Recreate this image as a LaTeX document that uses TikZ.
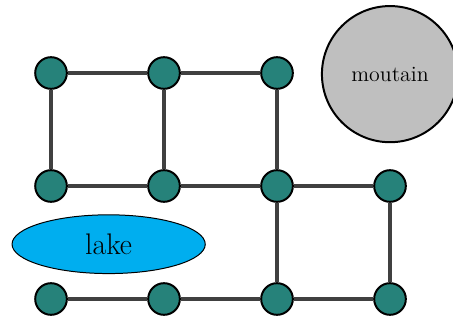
\documentclass[tikz,border=0pt]{standalone}
\usetikzlibrary{shapes.geometric}
\definecolor{nodeteal}{RGB}{38,130,122}
\definecolor{lakeblue}{RGB}{0,174,239}
\definecolor{edgegray}{RGB}{64,64,64}
\tikzset{
  vertex/.style={circle, draw=black, line width=1pt, fill=nodeteal, minimum size=0.56cm, inner sep=0pt},
  road/.style={edgegray, line width=1.6pt}
}
\begin{document}
\begin{tikzpicture}
		\useasboundingbox (-0.903, 1.292) rectangle (7.115, -4.407);
		% grid vertices
		\foreach \i in {0,1,2} \node[vertex] (n-\i-0) at (2*\i, 0) {};
		\foreach \j in {1,2} \foreach \i in {0,1,2,3} \node[vertex] (n-\i-\j) at (2*\i, -2*\j) {};
		
		% roads
		\draw[road] (n-0-0) -- (n-1-0) -- (n-2-0);
		\draw[road] (n-0-1) -- (n-1-1) -- (n-2-1) -- (n-3-1);
		\draw[road] (n-0-2) -- (n-1-2) -- (n-2-2) -- (n-3-2);
		\foreach \i in {0,1,2} \draw[road] (n-\i-0) -- (n-\i-1);
		\foreach \i in {2,3} \draw[road] (n-\i-1) -- (n-\i-2);
		
		\node[circle, draw=black, line width=1pt, fill=lightgray, minimum size=2.41cm, inner sep=0pt, font=\fontsize{11}{13}\selectfont] (mountain) at (6.0, -0.02) {moutain};
		\node[ellipse, draw=black, line width=0.5pt, fill=lakeblue, minimum width=3.42cm, minimum height=1.04cm, font=\fontsize{15}{18}\selectfont] (lake) at (1.02, -3.03) {lake};
	\end{tikzpicture}
\end{document}
